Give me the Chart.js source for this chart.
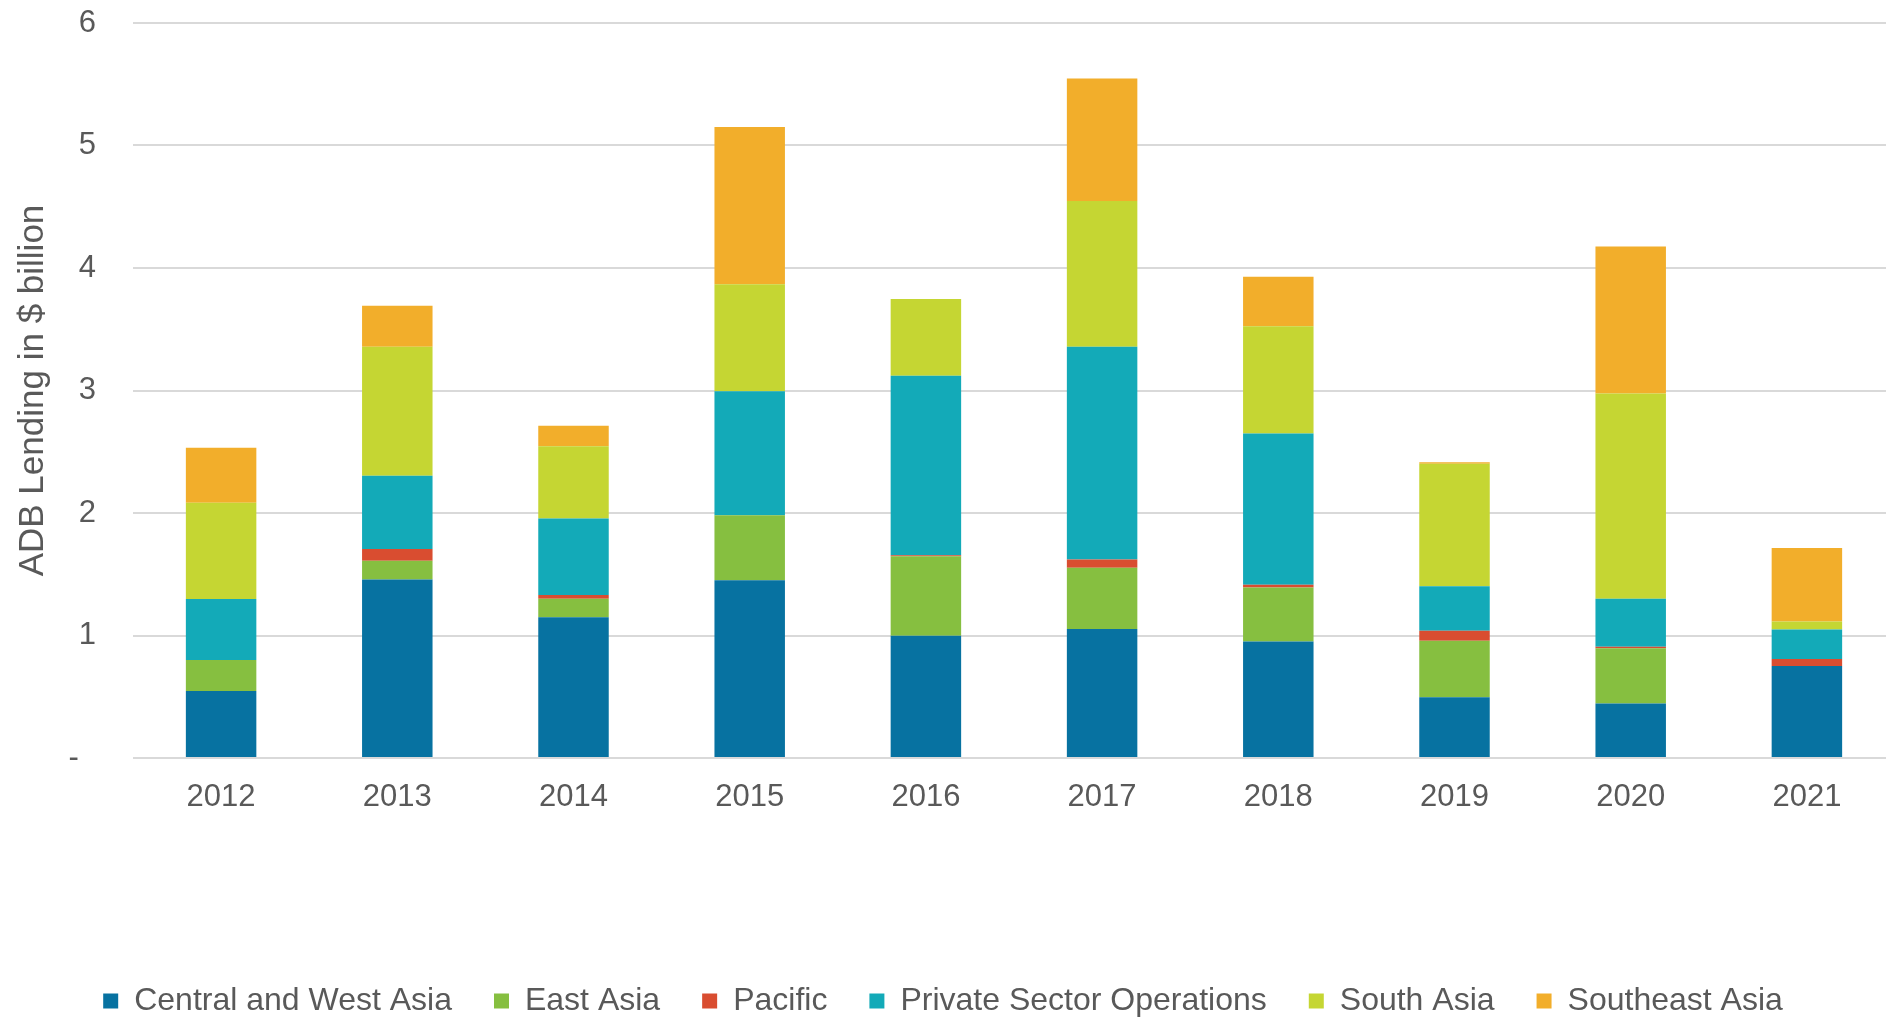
<!DOCTYPE html>
<html>
<head>
<meta charset="utf-8">
<title>ADB Lending</title>
<script src="https://cdn.jsdelivr.net/npm/chart.js@4.4.0/dist/chart.umd.min.js"></script>
<style>
    html, body { margin: 0; padding: 0; background: #fff; overflow: hidden; }
    /* the plot area runs slightly past the right edge of the window */
    #wrap { width: 1895px; height: 1017px; position: relative; }
</style>
</head>
<body>
<div id="wrap"><canvas id="lendingChart"></canvas></div>
<script>
/* global Chart */

const YEARS = ['2012','2013','2014','2015','2016','2017','2018','2019','2020','2021'];

// $ billion
const CENTRAL_WEST = [0.547, 1.458, 1.148, 1.451, 0.998, 1.054, 0.952, 0.496, 0.444, 0.751];
const EAST_ASIA    = [0.253, 0.153, 0.152, 0.531, 0.648, 0.499, 0.439, 0.462, 0.451, 0];
const PACIFIC      = [0,     0.095, 0.031, 0,     0.010, 0.068, 0.023, 0.080, 0.014, 0.058];
const PRIVATE_OPS  = [0.498, 0.598, 0.625, 1.012, 1.465, 1.737, 1.235, 0.364, 0.390, 0.240];
const SOUTH_ASIA   = [0.786, 1.054, 0.588, 0.874, 0.626, 1.189, 0.875, 1.001, 1.677, 0.066];
const SOUTHEAST    = [0.449, 0.334, 0.169, 1.284, 0,     1.000, 0.404, 0.011, 1.199, 0.600];

const Y_TICKS = ['-', '1', '2', '3', '4', '5', '6'];

const FONT = '"Liberation Sans", Arial, sans-serif';
const TEXT = '#595959';
const VISIBLE_WIDTH = 1886;

// keep the legend centred on the visible window, not the wider canvas
const legendCentre = {
    id: 'legendCentre',
    afterLayout(chart) {
        chart.legend.right = VISIBLE_WIDTH;
    }
};

new Chart(document.getElementById('lendingChart'), {
    type: 'bar',
    data: {
        labels: YEARS,
        datasets: [
            { label: 'Central and West Asia',     backgroundColor: '#0772A1', data: CENTRAL_WEST },
            { label: 'East Asia',                 backgroundColor: '#86BF40', data: EAST_ASIA },
            { label: 'Pacific',                   backgroundColor: '#D94D30', data: PACIFIC },
            { label: 'Private Sector Operations', backgroundColor: '#13AAB8', data: PRIVATE_OPS },
            { label: 'South Asia',                backgroundColor: '#C5D633', data: SOUTH_ASIA },
            { label: 'Southeast Asia',            backgroundColor: '#F2AE2B', data: SOUTHEAST },
        ]
    },
    options: {
        responsive: true,
        maintainAspectRatio: false,
        animation: false,
        datasets: { bar: { categoryPercentage: 1, barPercentage: 0.4, borderWidth: 0 } },
        layout: { padding: { top: 23, right: 0, left: 0, bottom: -10 } },
        scales: {
            x: {
                stacked: true,
                grid: { display: false, drawTicks: false },
                border: { display: false },
                ticks: { color: TEXT, font: { family: FONT, size: 31 }, padding: 21 },
                afterFit: s => { s.height = 185; }
            },
            y: {
                stacked: true,
                min: 0,
                max: 6,
                grid: { color: '#d9d9d9', lineWidth: 2, drawTicks: false },
                border: { display: false },
                ticks: {
                    stepSize: 1,
                    color: TEXT,
                    font: { family: FONT, size: 31 },
                    padding: 37,
                    callback: v => Y_TICKS[v] === '-' ? '-  ' : Y_TICKS[v]
                },
                title: {
                    display: true,
                    text: 'ADB Lending in $ billion',
                    color: TEXT,
                    font: { family: FONT, size: 35 },
                    padding: { top: 12, bottom: 0 }
                },
                afterFit: s => {
                    s.width = 133;
                    // tick padding otherwise pushes the plot down
                    s.paddingTop = 0;
                    s.paddingBottom = 0;
                }
            }
        },
        plugins: {
            legend: {
                display: true,
                position: 'bottom',
                labels: {
                    color: TEXT,
                    font: { family: FONT, size: 32 },
                    boxWidth: 15,
                    boxHeight: 15,
                    padding: 42
                }
            },
            tooltip: { enabled: false }
        }
    },
    plugins: [legendCentre]
});
</script>
</body>
</html>
